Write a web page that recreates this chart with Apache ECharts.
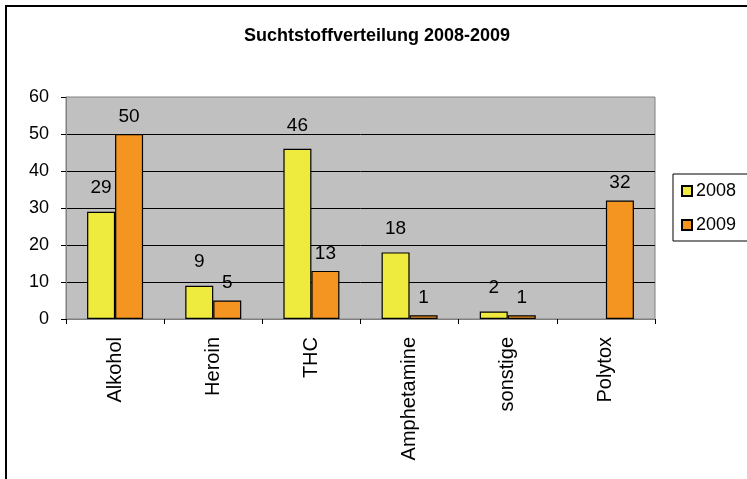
<!DOCTYPE html>
<html>
<head>
<meta charset="utf-8">
<script src="https://cdn.jsdelivr.net/npm/echarts@6/dist/echarts.min.js"></script>
<style>
html,body{margin:0;padding:0;background:#fff;}
#c{width:747px;height:479px;}
</style>
</head>
<body>
<div id="c"></div>
<script>
const categories = ['Alkohol', 'Heroin', 'THC', 'Amphetamine', 'sonstige', 'Polytox'];
const values2008 = [29, 9, 46, 18, 2, null];
const values2009 = [50, 5, 13, 1, 1, 32];
const yTicks = [0, 10, 20, 30, 40, 50, 60];
const seriesNames = ['2008', '2009'];
const titleText = 'Suchtstoffverteilung 2008-2009';

const FONT = 'Liberation Sans, Arial, sans-serif';
const chart = echarts.init(document.getElementById('c'), null, {renderer: 'canvas'});

const barStyle = (color) => ({color: color, borderColor: '#000', borderWidth: 1.2});

chart.setOption({
  animation: false,
  backgroundColor: '#fff',
  title: {
    text: titleText,
    left: 372, top: 22, textAlign: 'center',
    textStyle: {fontFamily: FONT, fontSize: 18, fontWeight: 'bold', color: '#000'}
  },
  legend: {
    orient: 'vertical',
    left: 673, top: 174,
    padding: [8, 30, 7, 8],
    itemGap: 16,
    itemWidth: 10, itemHeight: 10,
    icon: 'rect',
    borderColor: '#000', borderWidth: 1,
    backgroundColor: '#fff',
    textStyle: {fontFamily: FONT, fontSize: 18, color: '#000', padding: [0,0,0,-1]},
    data: seriesNames
  },
  grid: {
    left: 66, right: 92, top: 97, bottom: 160,
    show: true, backgroundColor: '#C0C0C0', borderColor: '#808080', borderWidth: 1,
    containLabel: false
  },
  xAxis: {
    type: 'category',
    data: categories,
    axisLine: {lineStyle: {color: '#808080', width: 1}},
    axisTick: {show: true, length: 5, lineStyle: {color: '#000'}},
    axisLabel: {rotate: 90, margin: 18, fontFamily: FONT, fontSize: 20, color: '#000'}
  },
  yAxis: {
    type: 'value',
    min: yTicks[0], max: yTicks[yTicks.length - 1], interval: yTicks[1] - yTicks[0],
    axisLine: {show: true, lineStyle: {color: '#808080', width: 1}},
    axisTick: {show: true, length: 5, lineStyle: {color: '#000'}},
    axisLabel: {margin: 17, fontFamily: FONT, fontSize: 18, color: '#000'},
    splitLine: {show: true, showMinLine: false, showMaxLine: false, lineStyle: {color: '#000', width: 1}}
  },
  series: [
    {
      name: seriesNames[0], type: 'bar', data: values2008,
      barWidth: 28, barGap: '0%',
      itemStyle: barStyle('#EEEA3E'),
      label: {show: true, position: 'top', distance: 14, fontFamily: FONT, fontSize: 19, color: '#000'}
    },
    {
      name: seriesNames[1], type: 'bar', data: values2009,
      barWidth: 28, barGap: '0%',
      itemStyle: barStyle('#F39520'),
      label: {show: true, position: 'top', distance: 8, fontFamily: FONT, fontSize: 19, color: '#000'}
    }
  ],
  graphic: [{
    type: 'rect', silent: true, z: 100,
    shape: {x: 6, y: 6, width: 800, height: 600},
    style: {fill: 'none', stroke: '#000', lineWidth: 2}
  }]
});
</script>
</body>
</html>
